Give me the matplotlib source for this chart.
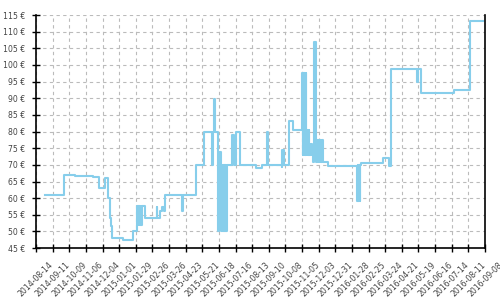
import numpy as np
import pandas as pd
import matplotlib
matplotlib.use("Agg")
import matplotlib.pyplot as plt
import matplotlib.dates as mdates

# price history, days counted from 2014-08-14
start = "2014-08-14"
days = [15, 47, 66, 96, 106, 117, 122, 124, 126, 128, 146, 163,
        170, 171, 172, 173, 174, 175, 176, 177, 178, 184, 203, 204,
        209, 212, 216, 218, 245, 247, 269, 283, 296, 298, 300, 301,
        306, 308, 312, 313, 314, 315, 316, 317, 318, 319, 320, 321,
        330, 334, 337, 344, 370, 380, 389, 391, 414, 415, 417, 426,
        432, 448, 449, 450, 451, 452, 453, 454, 455, 456, 457, 458,
        459, 460, 461, 462, 463, 464, 467, 468, 471, 472, 473, 474,
        475, 476, 477, 478, 479, 480, 481, 483, 491, 541, 542, 543,
        544, 545, 546, 547, 585, 595, 597, 641, 643, 648, 703, 731,
        752]
prices = [61, 67, 66.6, 66.3, 63, 66, 60, 54, 51.5, 48, 47.3, 50,
          57.5, 52, 57.5, 52, 57.5, 52, 57.5, 52, 57.5, 54, 57.3, 54,
          56.2, 57.3, 56, 61, 56, 61, 70, 80, 70, 80, 89.7, 80,
          50, 74, 50, 70, 50, 70, 50, 70, 50, 70, 50, 70,
          79, 70, 80, 70, 69, 70, 80, 70, 69.5, 74.6, 70, 83.2,
          80.4, 97.5, 73, 97.5, 73, 97.5, 73, 97.5, 80.4, 73, 80.4, 73,
          80.4, 73, 76.4, 73, 76.4, 73, 71, 107, 78.4, 71, 77.4, 71,
          77.4, 71, 77.4, 71, 77.4, 71, 77.4, 70.9, 69.7, 59.1, 70, 59.1,
          70, 59.1, 70, 70.6, 72.1, 69.6, 98.8, 94.8, 98.8, 91.7, 92.5, 113.2,
          113.2]

dates = pd.Timestamp(start) + pd.to_timedelta(days, unit="D")
tick_dates = pd.date_range("2014-08-14", "2016-09-08", freq="28D")
yticks = np.arange(45, 116, 5)

fig = plt.figure(figsize=(5, 3), dpi=100)
ax = fig.add_axes([0.072, 0.173, 0.898, 0.777])

ax.plot(dates, prices, drawstyle="steps-post", color="#87ceeb", lw=1.5)

ax.set_xlim(tick_dates[0], tick_dates[-1])
ax.set_ylim(45, 115)
ax.set_xticks(tick_dates)
ax.xaxis.set_major_formatter(mdates.DateFormatter("%Y-%m-%d"))
ax.set_yticks(yticks)
ax.set_yticklabels([f"{v} €" for v in yticks])

ax.grid(True, linestyle=(0, (3, 3)), color="#bbbbbb", lw=0.8)
ax.set_axisbelow(True)

ax.spines["top"].set_visible(False)
for s in ["left", "bottom", "right"]:
    ax.spines[s].set_color("black")
    ax.spines[s].set_linewidth(1.2)

ax.tick_params(axis="both", direction="inout", length=6, width=1,
               labelsize=5.6, labelcolor="#444444")
ax.tick_params(axis="y", pad=5)
ax.tick_params(axis="x", pad=6)
for lab in ax.get_xticklabels():
    lab.set_rotation(45)
    lab.set_ha("center")

fig.savefig("out.png", dpi=100)
